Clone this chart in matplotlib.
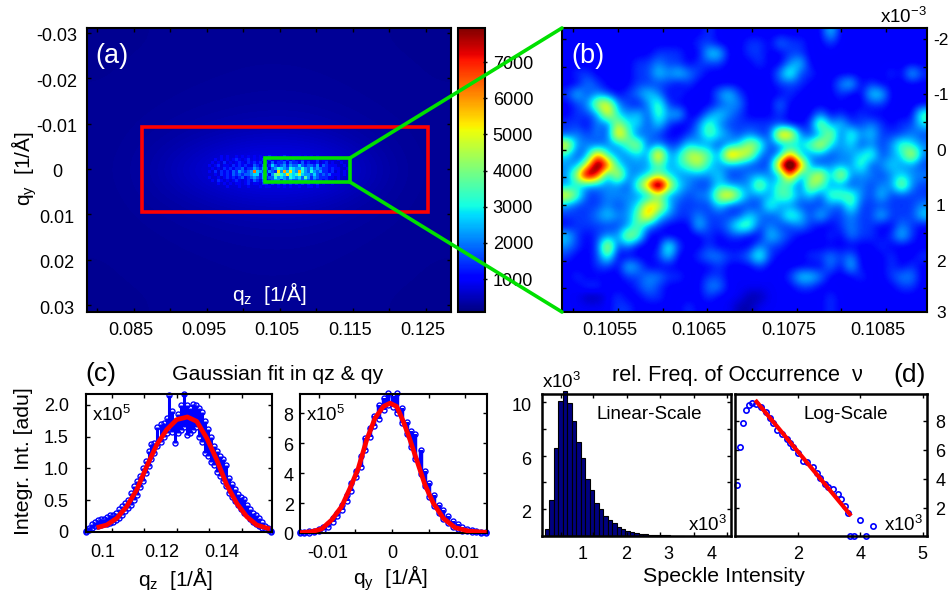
import numpy as np
import matplotlib
matplotlib.use('Agg')
import matplotlib.pyplot as plt
from matplotlib.patches import Rectangle, ConnectionPatch

plt.rcParams['font.family'] = ['Liberation Sans', 'DejaVu Sans']
plt.rcParams['mathtext.default'] = 'regular'

W, H = 950, 592
BLUE = '#0000ff'
RED = '#ff0000'
GREEN = '#00e000'
VMIN, VMAX = 90, 7940

# panel (a) slow background, adu
bg_a = [
    [240, 240, 250, 250, 260, 260, 260, 250, 240, 240],
    [240, 250, 260, 270, 280, 280, 270, 260, 250, 240],
    [250, 260, 280, 300, 320, 330, 310, 280, 260, 250],
    [250, 290, 350, 440, 520, 540, 470, 360, 290, 250],
    [260, 330, 560, 800, 1000, 1000, 900, 600, 330, 260],
    [250, 290, 350, 440, 520, 540, 470, 360, 290, 250],
    [250, 260, 280, 300, 320, 330, 310, 280, 260, 250],
    [240, 250, 260, 270, 280, 280, 270, 260, 250, 240],
    [240, 240, 250, 250, 260, 260, 260, 250, 240, 240],
]
# panel (a) speckle band, hex digits in units of 450 adu
band_a = [
    "1111121211 2121212121 2322123212 2212121211 1111111111",
    "1112121212 3212312123 2321232323 2132212312 2111211111",
    "1121213121 2321323231 3242334243 3242322312 3121121111",
    "1212312213 2323214324 2364345354 4643443524 3222112111",
    "1121213232 3342335435 4245765476 5575464543 3232211211",
    "1213132324 354345e654 3543c5d6c6 5d75475453 3231212111",
    "1112132324 3434456635 4258976c76 7a65546434 3422212111",
    "1211212323 2342345435 3447565476 5648535433 3221211111",
    "1121321212 3212324324 2345535454 4545434332 3211211111",
    "1111212121 2212312213 3132323232 3232322312 1121111111",
    "1111111211 1211211121 2211212121 1211221211 1111111111",
]
# panel (b) zoom, one digit per cell, see levels_b
levels_b = [400, 950, 1500, 2150, 2900, 3800, 4900, 5700, 6500, 7200, 8000, 9500, 11000]
zoom_b = [
    "1111111111 1111211111 1111114111 111111",
    "1111111111 1112211122 1322112111 111111",
    "1111111112 2211441122 1122111111 111111",
    "1111111223 2212221112 1134111111 111111",
    "1221111224 3432111111 1352211111 112142",
    "1132111222 2121111111 1222111341 211111",
    "2423212343 1211134211 1121111211 441111",
    "1236732135 2111123311 1311111111 221111",
    "1223743425 3411343211 1211131212 111115",
    "2213264424 2113532222 2211263422 321224",
    "2323285232 1123543232 2883236253 422232",
    "7332335623 2243323465 2334574342 323543",
    "4238433439 3466539763 2383332334 523473",
    "336b943335 3456433322 29c9323335 234332",
    "36b9373345 4333342233 3393573733 323433",
    "343333258c 7432243336 3542653323 233632",
    "7522333335 3323368533 3553425553 242222",
    "3222323477 4222242222 5332223252 222223",
    "2223433584 3223222243 2354242232 242224",
    "1222223532 1114223552 3223211232 211321",
    "4212336511 1111212211 4321112132 212421",
    "3212723111 5211211113 2211111111 121111",
    "2112511112 4112332235 2111223231 112112",
    "1112214311 1111121112 1111113141 112121",
    "1211112233 2211221111 1124431112 112331",
    "1122111232 1111331111 1112211111 111221",
    "1100121122 1111211100 1111112111 111111",
    "1111122111 1121111001 1111112111 111111",
]

# panel (c) left: measured band
qz_c = [.0943, .0953, .0963, .0973, .0983, .0993, .1003, .1013, .1024, .1034, .1044, .1054, .1064, .1074,
        .1084, .1094, .1104, .1114, .1124, .1134, .1144, .1154, .1164, .1174, .1184, .1195, .1205, .1215,
        .1222, .1232, .1242, .1252, .1262, .1272, .1283, .1292, .1302, .1313, .1323, .1333, .1343, .1353,
        .1363, .1373, .1383, .1393, .1403, .1413, .1423, .1434, .1444, .1454, .1464, .1474, .1484, .1494,
        .1504, .1514, .1524, .1534, .1544, .1555, .1565]
top_c = [.02, .06, .12, .16, .19, .20, .20, .23, .26, .26, .30, .36, .41, .45,
         .50, .62, .72, .80, .88, 1.0, 1.12, 1.28, 1.38, 1.40, 1.65, 1.70, 1.72, 1.80,
         2.16, 1.90, 1.75, 1.85, 2.0, 2.17, 2.0, 1.95, 2.02, 2.0, 1.95, 1.88, 1.75, 1.62,
         1.50, 1.35, 1.28, 1.20, 1.15, 1.05, .85, .75, .68, .60, .55, .52, .42, .36,
         .30, .26, .22, .16, .10, .06, .02]
low_c = [.0, .03, .06, .09, .10, .11, .12, .13, .14, .16, .19, .22, .27, .33,
         .38, .43, .50, .58, .70, .80, .92, 1.03, 1.15, 1.25, 1.35, 1.42, 1.50, 1.55,
         1.65, 1.58, 1.40, 1.55, 1.60, 1.65, 1.53, 1.55, 1.60, 1.65, 1.50, 1.42, 1.25, 1.20,
         1.1, 1.05, .95, .88, .80, .72, .62, .55, .48, .42, .36, .30, .26, .20,
         .16, .12, .09, .07, .05, .03, .0]
fit_qz = [.09798, .10134, .10471, .10807, .11143, .11479, .11815, .12151, .12487, .12846, .13160, .13496,
          .13832, .14168, .14504, .14840, .15176, .15625]
fit_qz_i = [.068, .110, .216, .400, .663, 1.031, 1.372, 1.609, 1.767, 1.809, 1.740, 1.477,
            1.136, .741, .452, .242, .110, .047]

# panel (c) right
qy_c = [-.0126, -.0120, -.0113, -.0107, -.0100, -.0094, -.0088, -.0081, -.0075, -.0068, -.0062, -.0056,
        -.0049, -.0043, -.0037, -.0030, -.0024, -.0018, -.0011, -.0005, .0001, .0007, .0013, .0020, .0026,
        .0032, .0039, .0045, .0051, .0058, .0064, .0070, .0077, .0083, .0090, .0096, .0102, .0109, .0115,
        .0122, .0128]
top_y = [.06, .08, .10, .16, .25, .42, .62, .98, 1.3, 1.85, 2.55, 3.3,
         4.15, 5.1, 6.3, 7.0, 7.8, 8.5, 9.0, 9.3, 9.1, 9.3, 8.3, 7.4, 6.8,
         6.6, 5.5, 4.1, 3.3, 2.5, 1.85, 1.55, 1.15, .8, .6, .42, .28, .18, .12,
         .08, .06]
low_y = [.0, .0, .02, .05, .10, .20, .40, .75, 1.1, 1.5, 2.1, 2.8,
         3.7, 4.4, 5.5, 6.4, 7.1, 7.6, 8.2, 8.5, 8.4, 8.0, 7.3, 6.6, 5.7,
         4.9, 3.9, 3.1, 2.4, 1.8, 1.3, .9, .65, .4, .28, .16, .10, .06, .04,
         .02, .0]
fit_qy = [-.01257, -.01097, -.00961, -.00824, -.00688, -.00574, -.00460, -.00346, -.00232, -.00118, -.00027,
          .00064, .00155, .00246, .00360, .00451, .00565, .00701, .00861, .01043, .01293]
fit_qy_i = [.02, .09, .27, .87, 1.76, 2.98, 4.31, 6.2, 7.64, 8.42, 8.64,
            8.42, 7.42, 6.2, 4.53, 3.2, 1.98, .98, .36, .13, .04]

# panel (d) histogram
bins_d = [.175, .279, .383, .487, .591, .695, .799, .903, 1.007, 1.111, 1.215, 1.319, 1.423, 1.527, 1.631, 1.735,
          1.839, 1.943, 2.047, 2.151, 2.255, 2.359, 2.463, 2.567, 2.671, 2.775, 2.879, 2.983, 3.087, 3.191, 3.295]
freq_d = [.55, 2.7, 6.55, 10.05, 10.8, 9.9, 8.6, 7.0, 5.85, 4.25, 3.4, 2.5, 2.0, 1.5, 1.2, 1.0,
          .68, .55, .4, .3, .22, .17, .14, .11, .09, .07, .05, .04, .03, .025, .02]
log_x = [.04, .14, .24, .35, .45, .54, .65, .81, .98, 1.11, 1.21, 1.34, 1.48, 1.64, 1.74, 1.85, 2.01, 2.17,
         2.28, 2.47, 2.60, 2.70, 2.86, 2.97, 3.13, 3.29, 3.37, 3.50, 3.61, 3.99, 4.40, 3.68, 3.79, 4.19]
log_y = [3.59, 6.23, 7.86, 8.74, 9.13, 9.22, 9.17, 8.94, 8.64, 8.18, 7.84, 7.38, 7.10, 6.74, 6.46, 6.18, 5.77, 5.26,
         5.20, 4.85, 4.44, 4.05, 3.70, 3.47, 3.29, 3.01, 2.67, 2.16, 1.68, 1.17, .78, .09, .09, .09]
fit_log_x = [.68, 3.66]
fit_log_y = [9.33, 1.59]


def digit_rows(rows):
    return np.array([[int(c, 16) for c in r.replace(' ', '')] for r in rows])


def px_axes(fig, left, top, right, bottom):
    return fig.add_axes([left / W, 1 - bottom / H, (right - left) / W, (bottom - top) / H])


def frame(ax, lw=1.5):
    for s in ax.spines.values():
        s.set_linewidth(lw)


# major ticks only carry the text, the marks in the source sit a bit off the labels
def xmarks(ax, marks, pos, labels, pad, size=13):
    ax.xaxis.remove_overlapping_locs = False
    ax.set_xticks(pos, labels)
    ax.set_xticks(marks, minor=True)
    ax.tick_params(axis='x', which='major', length=0, pad=pad, labelsize=size)
    ax.tick_params(axis='x', which='minor', length=3, width=1, direction='in', top=True, bottom=True)


def ymarks(ax, marks, pos, labels, pad, size=13):
    ax.yaxis.remove_overlapping_locs = False
    ax.set_yticks(pos, labels)
    ax.set_yticks(marks, minor=True)
    ax.tick_params(axis='y', which='major', length=0, pad=pad, labelsize=size)
    ax.tick_params(axis='y', which='minor', length=3, width=1, direction='in', left=True, right=True)


fig = plt.figure(figsize=(W / 100, H / 100), dpi=100)

# (a)
ax_a = px_axes(fig, 87, 28, 451, 312)
xl_a = (.07897, .12884)
yl_a = (.0315, -.03106)
im = ax_a.imshow(bg_a, extent=(xl_a[0], xl_a[1], yl_a[0], yl_a[1]), cmap='jet', vmin=VMIN, vmax=VMAX,
                 aspect='auto', interpolation='bicubic')
band = digit_rows(band_a) * 450.0
band = np.ma.masked_less_equal(band, 450)
ax_a.imshow(band, extent=(.09514, .11568, .00418, -.00308), cmap='jet', vmin=VMIN, vmax=VMAX,
            aspect='auto', interpolation='nearest')
ax_a.set_xlim(xl_a)
ax_a.set_ylim(yl_a)
xmarks(ax_a, [.0804, .0854, .0904, .0954, .1004, .1054, .1104, .1154, .1204, .1254],
       [.085, .095, .105, .115, .125], ['0.085', '0.095', '0.105', '0.115', '0.125'], 7.5)
ymarks(ax_a, [-.03, -.02, -.01, 0, .01, .02, .03], [-.0296, -.0196, -.0096, .0004, .0104, .0204, .0304],
       ['-0.03', '-0.02', '-0.01', '0', '0.01', '0.02', '0.03'], 21.5)
for t in ax_a.get_yticklabels():
    t.set_ha('center')
frame(ax_a)
ax_a.add_patch(Rectangle((.0865, -.00925), .03918, .01872, fill=False, ec=RED, lw=2.6, zorder=4))
ax_a.add_patch(Rectangle((.10336, -.00242), .01164, .00528, fill=False, ec=GREEN, lw=2.6, zorder=5))
ax_a.text(.024, .9, '(a)', color='white', fontsize=19.5, transform=ax_a.transAxes, va='center')
ax_a.text(.5, .0655, r'$q_z$  [1/Å]', color='white', fontsize=15, transform=ax_a.transAxes, ha='center', va='center')
fig.text(24 / W, 1 - 169 / H, r'$q_y$  [1/Å]', rotation=90, fontsize=15, ha='center', va='center')

# colorbar
cax = px_axes(fig, 458, 28, 485, 312)
cb = fig.colorbar(im, cax=cax)
cb.set_ticks([1000, 2000, 3000, 4000, 5000, 6000, 7000])
cax.tick_params(axis='y', length=3, width=1, direction='inout', labelsize=13, pad=4, zorder=3)
frame(cax)

# (b)
ax_b = px_axes(fig, 562, 28, 927, 312)
xl_b = (.104963, .10905)
yl_b = (2.93, -2.2)
zoom_vals = np.array(levels_b, dtype=float)[digit_rows(zoom_b)]
ax_b.imshow(zoom_vals, extent=(xl_b[0], xl_b[1], yl_b[0], yl_b[1]), cmap='jet', vmin=VMIN, vmax=VMAX,
            aspect='auto', interpolation='bicubic')
xmarks(ax_b, [.10509, .10559, .10609, .10659, .10709, .10759, .10809, .10859],
       [.1055, .1065, .1075, .1085], ['0.1055', '0.1065', '0.1075', '0.1085'], 7.5)
ymarks(ax_b, [-2, -1.5, -1, -.5, 0, .5, 1, 1.5, 2, 2.5], [-2, -1, 0, 1, 2, 2.93],
       ['-2', '-1', '0', '1', '2', '3'], 10, size=12.5)
ax_b.yaxis.tick_right()
ax_b.tick_params(axis='y', which='minor', left=True, right=True)
for t in ax_b.get_yticklabels():
    t.set_ha('center')
frame(ax_b)
ax_b.text(.027, .9, '(b)', color='white', fontsize=19.5, transform=ax_b.transAxes, va='center')
fig.text(927 / W, 1 - 17 / H, r'x10$^{-3}$', fontsize=13.5, ha='right', va='center')

for y_rect, y_corner in ((-.00242, 1), (.00286, 0)):
    con = ConnectionPatch(xyA=(.115, y_rect), coordsA=ax_a.transData, xyB=(0, y_corner), coordsB=ax_b.transAxes,
                          color=GREEN, lw=2.6, zorder=10)
    fig.add_artist(con)

# (c) left
ax_c1 = px_axes(fig, 86, 394, 272, 532)
ax_c1.vlines(qz_c, low_c, top_c, color=BLUE, lw=2.2)
ax_c1.plot(qz_c, top_c, 'o', mfc='none', mec=BLUE, ms=3.6, mew=1, clip_on=False)
ax_c1.plot(qz_c, low_c, 'o', mfc='none', mec=BLUE, ms=3.6, mew=1, clip_on=False)
ax_c1.plot(fit_qz, fit_qz_i, color=RED, lw=3.4, solid_capstyle='butt', zorder=5)
ax_c1.set_xlim(.09439, .1569)
ax_c1.set_ylim(0, 2.17)
xmarks(ax_c1, [.103, .1139, .1249, .1358, .1467], [.1, .12, .14], ['0.1', '0.12', '0.14'], 8.5)
ymarks(ax_c1, [.5, 1, 1.5, 2], [0, .5, 1, 1.5, 2], ['0', '0.5', '1.0', '1.5', '2.0'], 12.5)
frame(ax_c1)
ax_c1.text(.03, .85, r'x10$^5$', fontsize=13.5, transform=ax_c1.transAxes, va='center')
fig.text(175 / W, 1 - 578 / H, r'$q_z$  [1/Å]', fontsize=15, ha='center', va='center')
fig.text(24 / W, 1 - 461 / H, 'Integr. Int. [adu]', rotation=90, fontsize=15.3, ha='center', va='center')
fig.text(85 / W, 1 - 374 / H, '(c)', fontsize=19, ha='left', va='center')
fig.text(277.5 / W, 1 - 375 / H, 'Gaussian fit in qz & qy', fontsize=15.3, ha='center', va='center')

# (c) right
ax_c2 = px_axes(fig, 300, 394, 487, 533)
ax_c2.vlines(qy_c, low_y, top_y, color=BLUE, lw=3.2)
ax_c2.plot(qy_c, top_y, 'o', mfc='none', mec=BLUE, ms=3.6, mew=1, clip_on=False)
ax_c2.plot(qy_c, low_y, 'o', mfc='none', mec=BLUE, ms=3.6, mew=1, clip_on=False)
ax_c2.plot(fit_qy, fit_qy_i, color=RED, lw=3.4, solid_capstyle='butt', zorder=5)
ax_c2.set_xlim(-.01257, .01298)
ax_c2.set_ylim(0, 9.25)
xmarks(ax_c2, [-.01, -.005, 0, .005, .01], [-.00874, 0, .00956], ['-0.01', '0', '0.01'], 8.5)
ymarks(ax_c2, [2, 4, 6, 8], [0, 1.9, 3.9, 5.9, 7.9], ['0', '2', '4', '6', '8'], 4.5)
frame(ax_c2)
ax_c2.text(.03, .85, r'x10$^5$', fontsize=13.5, transform=ax_c2.transAxes, va='center')
fig.text(390 / W, 1 - 578 / H, r'$q_y$  [1/Å]', fontsize=15, ha='center', va='center')

# (d) left
ax_d1 = px_axes(fig, 542, 394, 731, 536)
ax_d1.bar(bins_d, freq_d, width=.104, color='#000080', edgecolor='black', lw=.8)
for p in ax_d1.patches:
    p.set_clip_on(False)
ax_d1.set_xlim(.0535, 4.449)
ax_d1.set_ylim(0, 10.6)
xmarks(ax_d1, [.49, 1.24, 2.03, 2.79, 3.58, 4.36], [1, 2, 3, 4], ['1', '2', '3', '4'], 7)
ymarks(ax_d1, [2, 4, 6, 8, 10], [1.8, 5.8, 9.8], ['2', '6', '10'], 7.5)
frame(ax_d1, 1.8)
ax_d1.text(.565, .855, 'Linear-Scale', fontsize=13.5, transform=ax_d1.transAxes, ha='center', va='center')
ax_d1.text(.98, .08, r'x10$^3$', fontsize=13.5, transform=ax_d1.transAxes, ha='right', va='center')
fig.text(542 / W, 1 - 382 / H, r'x10$^3$', fontsize=13.5, ha='left', va='center')

# (d) right
ax_d2 = px_axes(fig, 735, 394, 927, 536)
ax_d2.plot(log_x, log_y, 'o', mfc='none', mec=BLUE, ms=3.8, mew=1.2, clip_on=False)
ax_d2.plot(fit_log_x, fit_log_y, color=RED, lw=3, zorder=5)
ax_d2.set_xlim(-.01, 6.13)
ax_d2.set_ylim(.09, 9.86)
xmarks(ax_d2, [2, 4, 6], [2, 4, 5.98], ['2', '4', '5'], 7)
ymarks(ax_d2, [2, 4, 6, 8], [2, 4, 6, 8], ['2', '4', '6', '8'], 6)
ax_d2.yaxis.tick_right()
ax_d2.tick_params(axis='y', which='minor', left=True, right=True)
frame(ax_d2, 1.8)
ax_d2.text(.575, .855, 'Log-Scale', fontsize=13.5, transform=ax_d2.transAxes, ha='center', va='center')
ax_d2.text(.98, .08, r'x10$^3$', fontsize=13.5, transform=ax_d2.transAxes, ha='right', va='center')
fig.text(737.5 / W, 1 - 375 / H, 'rel. Freq. of Occurrence  ν', fontsize=15.6, ha='center', va='center')
fig.text(910 / W, 1 - 375 / H, '(d)', fontsize=19, ha='center', va='center')
fig.text(723.5 / W, 1 - 577 / H, 'Speckle Intensity', fontsize=15.4, ha='center', va='center')

fig.savefig('out.png', dpi=100)
